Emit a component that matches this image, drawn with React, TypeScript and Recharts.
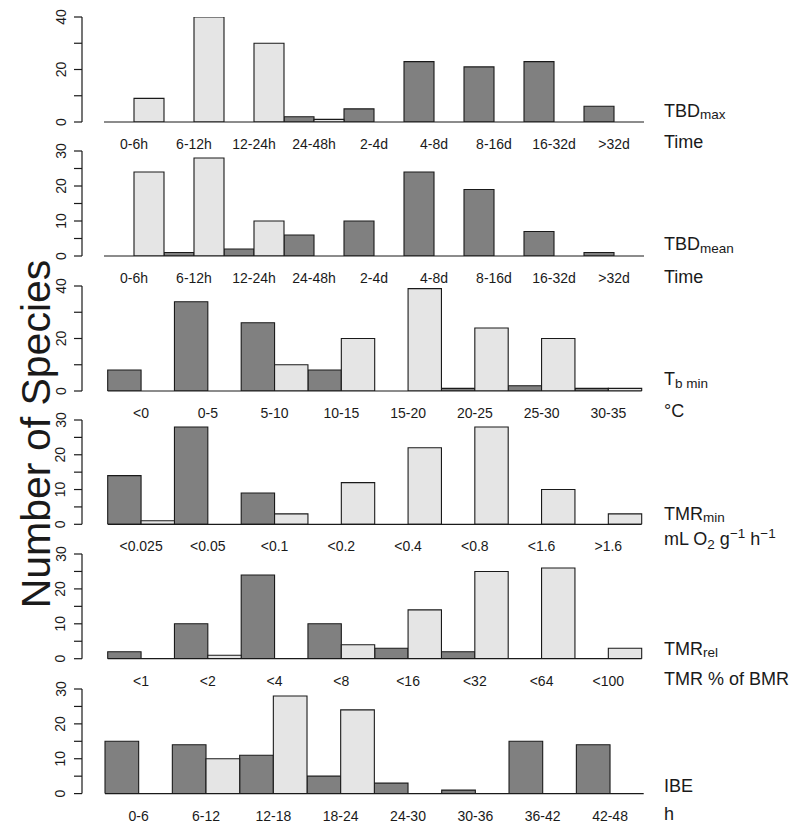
import React from 'react';
import { BarChart, Bar, XAxis, YAxis, ReferenceLine } from 'recharts';

// ---- data ----
const tbdCats = ['0-6h', '6-12h', '12-24h', '24-48h', '2-4d', '4-8d', '8-16d', '16-32d', '>32d'];
const tbdMaxDark = [0, 0, 0, 2, 5, 23, 21, 23, 6];
const tbdMaxLight = [9, 40, 30, 1, 0, 0, 0, 0, 0];
const tbdMeanDark = [0, 1, 2, 6, 10, 24, 19, 7, 1];
const tbdMeanLight = [24, 28, 10, 0, 0, 0, 0, 0, 0];
const tbCats = ['<0', '0-5', '5-10', '10-15', '15-20', '20-25', '25-30', '30-35'];
const tbDark = [8, 34, 26, 8, 0, 1, 2, 1];
const tbLight = [0, 0, 10, 20, 39, 24, 20, 1];
const tmrCats = ['<0.025', '<0.05', '<0.1', '<0.2', '<0.4', '<0.8', '<1.6', '>1.6'];
const tmrDark = [14, 28, 9, 0, 0, 0, 0, 0];
const tmrLight = [1, 0, 3, 12, 22, 28, 10, 3];
const relCats = ['<1', '<2', '<4', '<8', '<16', '<32', '<64', '<100'];
const relDark = [2, 10, 24, 10, 3, 2, 0, 0];
const relLight = [0, 1, 0, 4, 14, 25, 26, 3];
const ibeCats = ['0-6', '6-12', '12-18', '18-24', '24-30', '30-36', '36-42', '42-48'];
const ibeDark = [15, 14, 11, 5, 3, 1, 15, 14];
const ibeLight = [0, 10, 28, 24, 0, 0, 0, 0];
const yTicks40 = [0, 10, 20, 30, 40];
const yTicks30 = [0, 5, 10, 15, 20, 25, 30];

// ---- style ----
const FONT = '"Liberation Sans", Arial, Helvetica, sans-serif';
const DARK = '#808080';
const LIGHT = '#e5e5e5';
const INK = '#1a1a1a';
const PLOT_L = 82;
const PLOT_R = 666;
const CH = 160;
const MT = 10;
const XAH = 30;
const YAW = 60;

type Panel = {
  cats: string[];
  dark: number[];
  light: number[];
  yMax: number;
  ticks: number[];
  labelStep: number;
  y0: number;
  yTop: number;
  x0: number;
  x1: number;
};

const panels: Panel[] = [
  { cats: tbdCats, dark: tbdMaxDark, light: tbdMaxLight, yMax: 40, ticks: yTicks40, labelStep: 20, y0: 121.7, yTop: 16.7, x0: 104, x1: 644 },
  { cats: tbdCats, dark: tbdMeanDark, light: tbdMeanLight, yMax: 30, ticks: yTicks30, labelStep: 10, y0: 256, yTop: 151, x0: 104, x1: 644 },
  { cats: tbCats, dark: tbDark, light: tbLight, yMax: 40, ticks: yTicks40, labelStep: 20, y0: 390.7, yTop: 285.7, x0: 107.7, x1: 641.7 },
  { cats: tmrCats, dark: tmrDark, light: tmrLight, yMax: 30, ticks: yTicks30, labelStep: 10, y0: 524.3, yTop: 420, x0: 107.7, x1: 641.7 },
  { cats: relCats, dark: relDark, light: relLight, yMax: 30, ticks: yTicks30, labelStep: 10, y0: 659, yTop: 554.3, x0: 107.7, x1: 641.7 },
  { cats: ibeCats, dark: ibeDark, light: ibeLight, yMax: 30, ticks: yTicks30, labelStep: 10, y0: 793.3, yTop: 688.7, x0: 105, x1: 643.7 },
];

function PanelChart({ p }: { p: Panel }) {
  const n = p.cats.length;
  const b = (p.x1 - p.x0) / n;
  const domain: [number, number] = [-0.5 - (p.x0 - PLOT_L) / b, n - 0.5 + (PLOT_R - p.x1) / b];
  const data = p.cats.map((c, i) => ({ i, cat: c, dark: p.dark[i], light: p.light[i] }));
  const h = p.y0 - p.yTop;
  const mb = CH - MT - XAH - h;
  const bs = b / 2 - 0.001;
  const xTick = (props: any) => {
    const { x, y, payload } = props;
    return (
      <text x={x} y={y + 27} textAnchor="middle" fontSize={14} fontFamily={FONT} fill={INK}>
        {p.cats[payload.value]}
      </text>
    );
  };
  const yTick = (props: any) => {
    const { x, y, payload } = props;
    if (payload.value % p.labelStep !== 0) return <g />;
    const tx = x - 8.5;
    return (
      <text x={tx} y={y} transform={`rotate(-90, ${tx}, ${y})`} textAnchor="middle" fontSize={14} fontFamily={FONT} fill={INK}>
        {payload.value}
      </text>
    );
  };
  return (
    <div style={{ position: 'absolute', left: 0, top: p.yTop - MT }}>
      <BarChart
        width={800}
        height={CH}
        data={data}
        margin={{ top: MT, right: 800 - PLOT_R, bottom: mb, left: PLOT_L - YAW }}
        barGap={0}
        barCategoryGap={0}
      >
        <XAxis
          dataKey="i"
          type="number"
          domain={domain}
          ticks={p.cats.map((_, i) => i)}
          interval={0}
          allowDataOverflow
          axisLine={false}
          tickLine={false}
          tickSize={0}
          tickMargin={0}
          height={XAH}
          tick={xTick}
        />
        <YAxis
          width={YAW}
          domain={[0, p.yMax]}
          ticks={p.ticks}
          interval={0}
          allowDataOverflow
          tickSize={8}
          tickMargin={0}
          axisLine={{ stroke: INK, strokeWidth: 1.2 }}
          tickLine={{ stroke: INK, strokeWidth: 1.2 }}
          tick={yTick}
        />
        <Bar dataKey="dark" fill={DARK} stroke={INK} strokeWidth={1.1} barSize={bs} isAnimationActive={false} />
        <Bar dataKey="light" fill={LIGHT} stroke={INK} strokeWidth={1.1} barSize={bs} isAnimationActive={false} />
        <ReferenceLine
          segment={[{ x: -0.5, y: 0 }, { x: n - 0.5, y: 0 }]}
          stroke={INK}
          strokeWidth={1.2}
          ifOverflow="visible"
        />
      </BarChart>
    </div>
  );
}

const MAIN = 18;
const SUB = 13.5;
const LX = 664;

function Overlay() {
  const t = { fontFamily: FONT, fill: INK } as const;
  return (
    <svg width={800} height={830} style={{ position: 'absolute', left: 0, top: 0, pointerEvents: 'none' }}>
      <text x={50} y={434} transform="rotate(-90, 50, 434)" textAnchor="middle" fontSize={41} {...t}>
        Number of Species
      </text>
      {/* panel 1 */}
      <text x={LX} y={116.7} fontSize={MAIN} {...t}>
        TBD<tspan fontSize={SUB} dy={2}>max</tspan>
      </text>
      <text x={LX} y={148.3} fontSize={MAIN} {...t}>Time</text>
      {/* panel 2 */}
      <text x={LX} y={250} fontSize={MAIN} {...t}>
        TBD<tspan fontSize={SUB} dy={2.5}>mean</tspan>
      </text>
      <text x={LX} y={282.6} fontSize={MAIN} {...t}>Time</text>
      {/* panel 3 */}
      <text x={LX} y={385} fontSize={MAIN} {...t}>
        T<tspan fontSize={SUB} dy={2.7}>b min</tspan>
      </text>
      <text x={LX} y={417} fontSize={MAIN} {...t}>°C</text>
      {/* panel 4 */}
      <text x={LX} y={520} fontSize={MAIN} {...t}>
        TMR<tspan fontSize={SUB} dy={2}>min</tspan>
      </text>
      <text x={LX} y={545} fontSize={MAIN} {...t}>
        mL O<tspan fontSize={SUB} dy={4}>2</tspan>
        <tspan dy={-4}> g</tspan>
        <tspan fontSize={SUB} dy={-7}>−1</tspan>
        <tspan dy={7}> h</tspan>
        <tspan fontSize={SUB} dy={-7}>−1</tspan>
      </text>
      {/* panel 5 */}
      <text x={LX} y={655} fontSize={MAIN} {...t}>
        TMR<tspan fontSize={SUB} dy={2}>rel</tspan>
      </text>
      <text x={LX} y={685} fontSize={MAIN} {...t}>TMR % of BMR</text>
      {/* panel 6 */}
      <text x={LX} y={791.7} fontSize={MAIN} {...t}>IBE</text>
      <text x={LX} y={820} fontSize={MAIN} {...t}>h</text>
    </svg>
  );
}

export default function App() {
  return (
    <div style={{ position: 'absolute', left: 0, top: 0, width: 800, height: 830, background: '#ffffff' }}>
      {panels.map((p, i) => (
        <PanelChart key={i} p={p} />
      ))}
      <Overlay />
    </div>
  );
}
